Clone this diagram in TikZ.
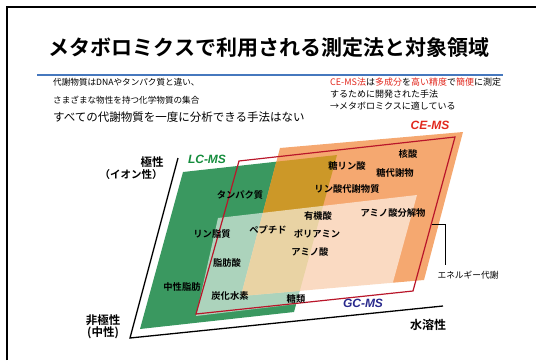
\documentclass[tikz,border=0pt]{standalone}
\usepackage{fontspec}
\setmainfont{Noto Sans CJK JP}[BoldFont={Noto Sans CJK JP Bold}]
\newfontfamily\latfont{Liberation Sans}
\definecolor{lcgreen}{RGB}{58,152,96}
\definecolor{ceorange}{RGB}{245,168,112}
\definecolor{overlapgold}{RGB}{204,152,40}
\definecolor{redline}{RGB}{185,22,42}
\definecolor{cered}{RGB}{225,40,30}
\definecolor{gcblue}{RGB}{40,40,140}
\definecolor{lcgreentext}{RGB}{20,140,60}
\definecolor{titleblue}{RGB}{70,120,190}
\begin{document}
\begin{tikzpicture}[x=1pt,y=-1pt,
  lab/.style={font=\bfseries\fontsize{9.3}{11}\selectfont, inner sep=0pt},
  axislab/.style={font=\bfseries\fontsize{11.5}{14}\selectfont, inner sep=0pt},
  msname/.style={font=\latfont\bfseries\itshape\fontsize{12}{14}\selectfont, inner sep=0pt},
  bodytext/.style={font=\fontsize{8.6}{10}\selectfont, inner sep=0pt, anchor=west},
  righttext/.style={font=\fontsize{9}{11}\selectfont, inner sep=0pt, anchor=west},
  axisline/.style={line width=1.3pt, black},
  bracket/.style={line width=1pt, black}]
\useasboundingbox (0,0) rectangle (536,360);
% frame
\draw[line width=2pt] (7,360) -- (7,7) -- (537,7);
% title
\node[font=\bfseries\fontsize{21}{25}\selectfont, inner sep=0pt] (title) at (269,48) {メタボロミクスで利用される測定法と対象領域};
\draw[line width=2.2pt, titleblue] (37,75) -- (503,75);
% texts
\node[bodytext] (t1) at (53,82) {代謝物質はDNAやタンパク質と違い、};
\node[bodytext] (t2) at (53,100) {さまざまな物性を持つ化学物質の集合};
\node[bodytext, font=\fontsize{11.5}{13}\selectfont] (t3) at (53,117) {すべての代謝物質を一度に分析できる手法はない};
\node[righttext] (r1) at (330,82) {\textcolor{cered}{CE-MS法}は\textcolor{cered}{多成分}を\textcolor{cered}{高い精度}で\textcolor{cered}{簡便}に測定};
\node[righttext] (r2) at (330,94) {するために開発された手法};
\node[righttext] (r3) at (330,106) {→メタボロミクスに適している};
% regions
\def\greenpath{(183,172) -- (337,155) -- (294,312) -- (140,329) -- cycle}
\def\orangepath{(280,148) -- (463,132) -- (424,280) -- (241,296) -- cycle}
\fill[lcgreen] \greenpath;
\fill[ceorange] \orangepath;
\begin{scope}
\clip \greenpath;
\fill[overlapgold] \orangepath;
\end{scope}
\fill[white, fill opacity=0.58] (218,218) -- (417,195) -- (390,293) -- (196,316) -- cycle;
\draw[redline, line width=1.2pt, line join=miter] (239,161) -- (455,137) -- (413,291) -- (196,314) -- cycle;
% axes
\coordinate (axtop) at (178,158);
\coordinate (axorigin) at (130,338);
\coordinate (axright) at (443,306);
\draw[axisline] (axtop) -- (axorigin) -- (axright);
% energy bracket
\coordinate (brA) at (432,224);
\coordinate (brB) at (445,224);
\coordinate (brC) at (445,265);
\draw[bracket] (brA) -- (brB) -- (brC);
\node[font=\fontsize{8.7}{10}\selectfont, inner sep=0pt] (energy) at (468,275) {エネルギー代謝};
% axis labels
\node[axislab] (pol1) at (152,162) {極性};
\node[axislab, font=\bfseries\fontsize{10.5}{13}\selectfont] (pol2) at (131,175) {（イオン性）};
\node[axislab] (np1) at (103,320) {非極性};
\node[axislab] (np2) at (103,333) {(中性)};
\node[axislab, font=\bfseries\fontsize{12}{14}\selectfont] (water) at (428,325) {水溶性};
% method names
\node[msname, lcgreentext] (lcms) at (207,159) {LC-MS};
\node[msname, cered] (cems) at (430,125) {CE-MS};
\node[msname, gcblue] (gcms) at (363,303) {GC-MS};
% metabolite labels
\node[lab] (m1) at (408,154) {核酸};
\node[lab] (m2) at (347,166) {糖リン酸};
\node[lab] (m3) at (395,173) {糖代謝物};
\node[lab] (m4) at (347,189) {リン酸代謝物質};
\node[lab] (m5) at (393,213) {アミノ酸分解物};
\node[lab] (m6) at (318,216) {有機酸};
\node[lab] (m7) at (317,234) {ポリアミン};
\node[lab] (m8) at (240,195) {タンパク質};
\node[lab] (m9) at (212,234) {リン脂質};
\node[lab] (m10) at (268,230) {ペプチド};
\node[lab] (m11) at (310,252) {アミノ酸};
\node[lab] (m12) at (227,263) {脂肪酸};
\node[lab] (m13) at (182,287) {中性脂肪};
\node[lab] (m14) at (230,296) {炭化水素};
\node[lab] (m15) at (296,299) {糖類};
\end{tikzpicture}
\end{document}
